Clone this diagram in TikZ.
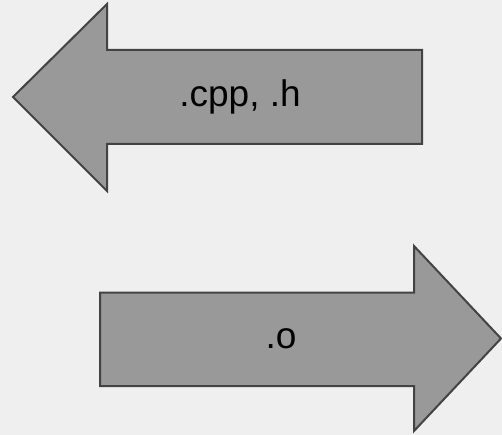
\documentclass[tikz,border=0pt]{standalone}
\usepackage{fontspec}
\setmainfont{Liberation Sans}
\tikzset{
  blockarrow/.style={draw=arrowedge, fill=arrowfill, line width=2pt, line join=miter},
  arrowlabel/.style={font=\fontsize{37}{44}\selectfont, text=black, inner sep=0pt}
}
\definecolor{canvas}{HTML}{EFEFEF}
\definecolor{arrowfill}{HTML}{999999}
\definecolor{arrowedge}{HTML}{434343}
\begin{document}
\begin{tikzpicture}[x=1pt, y=-1pt]
  % canvas
  \fill[canvas] (0,0) rectangle (502,435);
  \useasboundingbox (0,0) rectangle (502,435);
  % left-pointing block arrow
  \draw[blockarrow] (13,97) -- (107,4) -- (107,50) -- (422,50) -- (422,144)
    -- (107,144) -- (107,191) -- cycle;
  % right-pointing block arrow
  \draw[blockarrow] (100,292.5) -- (414,292.5) -- (414,246) -- (501,338.5)
    -- (414,431) -- (414,386) -- (100,386) -- cycle;
  % labels
  \node[arrowlabel] (src) at (240,97) {.cpp, .h};
  \node[arrowlabel] (obj) at (281,339) {.o};
\end{tikzpicture}
\end{document}
